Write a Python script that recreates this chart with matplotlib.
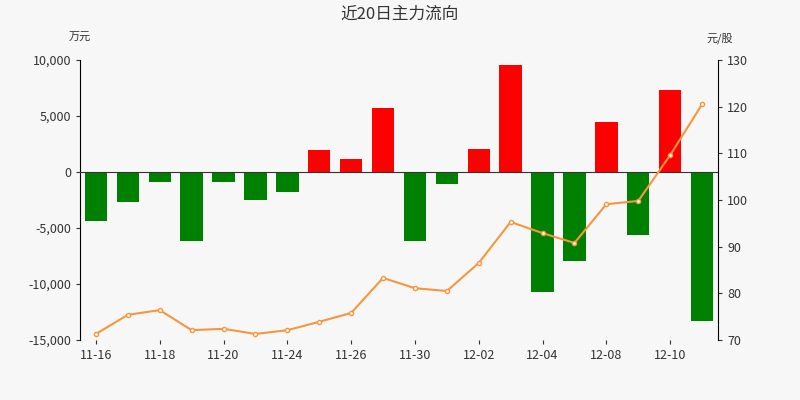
import matplotlib
matplotlib.use("Agg")
import matplotlib.pyplot as plt

plt.rcParams['font.family'] = ['Noto Sans CJK SC', 'DejaVu Sans']

dates = ["11-16","11-17","11-18","11-19","11-20","11-23","11-24","11-25","11-26","11-27",
         "11-30","12-01","12-02","12-03","12-04","12-07","12-08","12-09","12-10","12-11"]
flows = [-4380,-2680,-900,-6160,-900,-2500,-1790,1960,1160,5710,
         -6160,-1070,2050,9550,-10700,-7950,4460,-5620,7320,-13300]
prices = [71.3,75.4,76.4,72.1,72.4,71.3,72.1,73.9,75.8,83.3,
          81.1,80.5,86.5,95.3,92.9,90.8,99.1,99.8,109.6,120.5]

bg = "#f7f7f7"
fig = plt.figure(figsize=(8,4), dpi=100, facecolor=bg)
ax = fig.add_axes([0.1, 0.15, 0.7975, 0.70], facecolor=bg)
x = list(range(len(dates)))
colors = ["#ff0000" if v > 0 else "#008000" for v in flows]
ax.bar(x, flows, width=0.7, color=colors, zorder=2)
ax.set_ylim(-15000, 10000)
ax.set_yticks([-15000,-10000,-5000,0,5000,10000])
ax.set_yticklabels([f"{v:,}" for v in [-15000,-10000,-5000,0,5000,10000]])
ax.set_xlim(-0.5, len(x)-0.5)
ax.set_xticks(x[::2])
ax.set_xticklabels(dates[::2])
ax.axhline(0, color="#333333", lw=0.8, zorder=3)
for s in ["top","right"]:
    ax.spines[s].set_visible(False)
ax.spines["bottom"].set_visible(False)
ax.tick_params(labelsize=9, colors="#333333", length=3)

ax2 = ax.twinx()
ax2.plot(x, prices, color="#f7963c", lw=1.5, marker="o", ms=3,
         markerfacecolor="white", markeredgecolor="#f7963c", zorder=4)
ax2.set_ylim(70, 130)
ax2.set_yticks(range(70, 131, 10))
for s in ["top","left"]:
    ax2.spines[s].set_visible(False)
ax2.spines["bottom"].set_visible(False)
ax2.tick_params(labelsize=9, colors="#333333", length=3)

fig.text(0.5, 0.965, "近20日主力流向", ha="center", va="center", fontsize=12, color="#333333")
fig.text(0.1, 0.905, "万元", ha="center", va="center", fontsize=8, color="#333333")
fig.text(0.9, 0.905, "元/股", ha="center", va="center", fontsize=8, color="#333333")

fig.savefig("out.png", dpi=100, facecolor=bg)
